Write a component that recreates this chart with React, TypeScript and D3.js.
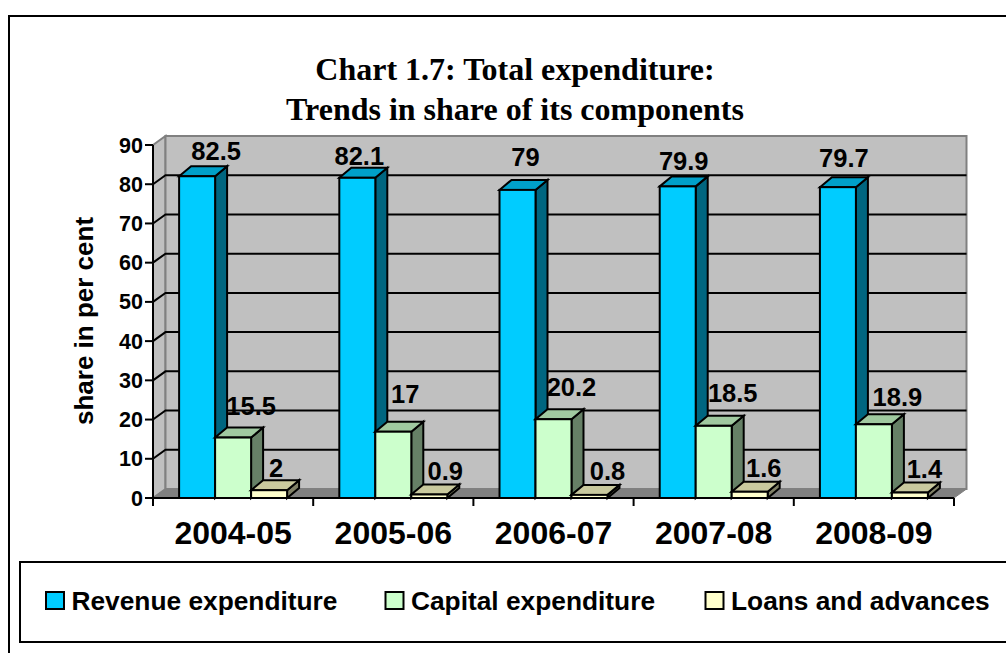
import React from "react";
import * as d3 from "d3";

const categories = ["2004-05", "2005-06", "2006-07", "2007-08", "2008-09"];
const seriesNames = ["Revenue expenditure", "Capital expenditure", "Loans and advances"];
const revenue = [82.5, 82.1, 79, 79.9, 79.7];
const capital = [15.5, 17, 20.2, 18.5, 18.9];
const loans = [2, 0.9, 0.8, 1.6, 1.4];
const yTicks = [0, 10, 20, 30, 40, 50, 60, 70, 80, 90];
const allSeries = [revenue, capital, loans];

// hand-placed data-label nudges (px from the top centre of each bar's front face)
const labelNudgeX = [[19, 2, 8, 6, 6], [18, 12, 18, 19, 23.5], [7, 16, 18, 14, 14.5]];
const labelNudgeY = [[-25, -22, -33, -25, -29], [-31.5, -38, -32, -33, -27], [-22.7, -23, -23.4, -24, -23.5]];

const fronts = ["#00CCFF", "#CCFFCC", "#FFFFCC"];
const tops = ["#00A0C9", "#A0C9A0", "#C9C99E"];
const sides = ["#006680", "#668066", "#808066"];

const LEFT = 153, RIGHT = 954, BASE = 498, TOP = 145;
const DX = 12.5, DY = -9;
const BDX = 12, BDY = -10;

const x0 = d3.scaleBand<string>().domain(categories).range([LEFT, RIGHT]).paddingInner(0.326).paddingOuter(0.163);
const x1 = d3.scaleBand<string>().domain(seriesNames).range([0, x0.bandwidth()]);
const y = d3.scaleLinear().domain([0, 90]).range([BASE, TOP]);
const barY = d3.scaleLinear().domain([0, 90]).range([BASE, 147]);
const poly = (pts: number[][]) => pts.map((p) => p.join(",")).join(" ");
const sans = "'Liberation Sans', Arial, sans-serif";
const serif = "'Liberation Serif', 'Times New Roman', serif";

export default function App() {
  return (
    <svg width={1006} height={653} style={{ position: "absolute", left: 0, top: 0, display: "block", background: "#fff" }}>
      {/* outer frame */}
      <path d="M9,653 V16 H1006" fill="none" stroke="#000" strokeWidth={2} />

      <text textAnchor="middle" x={515} y={80} fontFamily={serif} fontWeight="bold" fontSize={32}>Chart 1.7: Total expenditure:</text>
      <text textAnchor="middle" x={515} y={120} fontFamily={serif} fontWeight="bold" fontSize={32}>Trends in share of its components</text>

      {/* walls and floor */}
      <polygon points={poly([[LEFT, TOP], [LEFT + DX, TOP + DY], [LEFT + DX, BASE + DY], [LEFT, BASE]])} fill="#C0C0C0" stroke="#808080" strokeWidth={2} />
      <polygon points={poly([[LEFT + DX, TOP + DY], [RIGHT + DX, TOP + DY], [RIGHT + DX, BASE + DY], [LEFT + DX, BASE + DY]])} fill="#C0C0C0" stroke="#808080" strokeWidth={2} />
      <polygon points={poly([[LEFT, BASE], [LEFT + DX, BASE + DY], [RIGHT + DX, BASE + DY], [RIGHT, BASE]])} fill="#808080" stroke="#808080" />

      {/* gridlines */}
      {yTicks.filter((t) => t > 0 && t < 90).map((t) => (
        <path key={t} d={`M${LEFT},${y(t)} L${LEFT + DX},${y(t) + DY} H${RIGHT + DX}`} fill="none" stroke="#000" strokeWidth={2} />
      ))}

      {/* axes */}
      <path d={`M${LEFT},${TOP} V${BASE} H${RIGHT}`} fill="none" stroke="#000" strokeWidth={2} />
      {yTicks.map((t) => (
        <g key={t}>
          <line x1={LEFT - 8} x2={LEFT} y1={y(t)} y2={y(t)} stroke="#000" strokeWidth={2} />
          <text x={LEFT - 10} y={y(t) + 7.5} textAnchor="end" fontFamily={sans} fontWeight="bold" fontSize={21.5}>{t}</text>
        </g>
      ))}
      {d3.range(categories.length + 1).map((i) => {
        const tx = LEFT + (i * (RIGHT - LEFT)) / categories.length;
        return <line key={i} x1={tx} x2={tx} y1={BASE} y2={BASE + 8} stroke="#000" strokeWidth={2} />;
      })}
      {categories.map((c) => (
        <text key={c} x={x0(c)! + x0.bandwidth() / 2} y={544} textAnchor="middle" fontFamily={sans} fontWeight="bold" fontSize={32}>{c}</text>
      ))}
      <text transform="translate(93,321) rotate(-90)" textAnchor="middle" fontFamily={sans} fontWeight="bold" fontSize={26}>share in per cent</text>

      {/* bars */}
      {categories.map((c, ci) => (
        <g key={c}>
          {allSeries.map((values, si) => {
            const v = values[ci];
            const l = x0(c)! + x1(seriesNames[si])!;
            const r = l + x1.bandwidth();
            const t = barY(v);
            return (
              <g key={si} stroke="#000" strokeWidth={2} strokeLinejoin="miter">
                <polygon points={poly([[r, t], [r + BDX, t + BDY], [r + BDX, BASE + BDY], [r, BASE]])} fill={sides[si]} />
                <polygon points={poly([[l, t], [l + BDX, t + BDY], [r + BDX, t + BDY], [r, t]])} fill={tops[si]} />
                <rect x={l} y={t} width={r - l} height={BASE - t} fill={fronts[si]} />
              </g>
            );
          })}
        </g>
      ))}

      {/* value labels */}
      {categories.map((c, ci) =>
        allSeries.map((values, si) => {
          const l = x0(c)! + x1(seriesNames[si])!;
          return (
            <text key={c + si} x={l + x1.bandwidth() / 2 + labelNudgeX[si][ci]} y={barY(values[ci]) + labelNudgeY[si][ci] + 9}
              textAnchor="middle" fontFamily={sans} fontWeight="bold" fontSize={25.5}>{values[ci]}</text>
          );
        })
      )}

      {/* legend */}
      <path d="M1006,562 H20 V642 H1006" fill="#fff" stroke="#000" strokeWidth={2} />
      {seriesNames.map((n, i) => {
        const xs = [46, 385.5, 705.5][i];
        return (
          <g key={n}>
            <rect x={xs} y={592} width={18} height={17} fill={fronts[i]} stroke="#000" strokeWidth={2} />
            <text x={xs + 25.5} y={609.5} fontFamily={sans} fontWeight="bold" fontSize={26.3}>{n}</text>
          </g>
        );
      })}
    </svg>
  );
}
